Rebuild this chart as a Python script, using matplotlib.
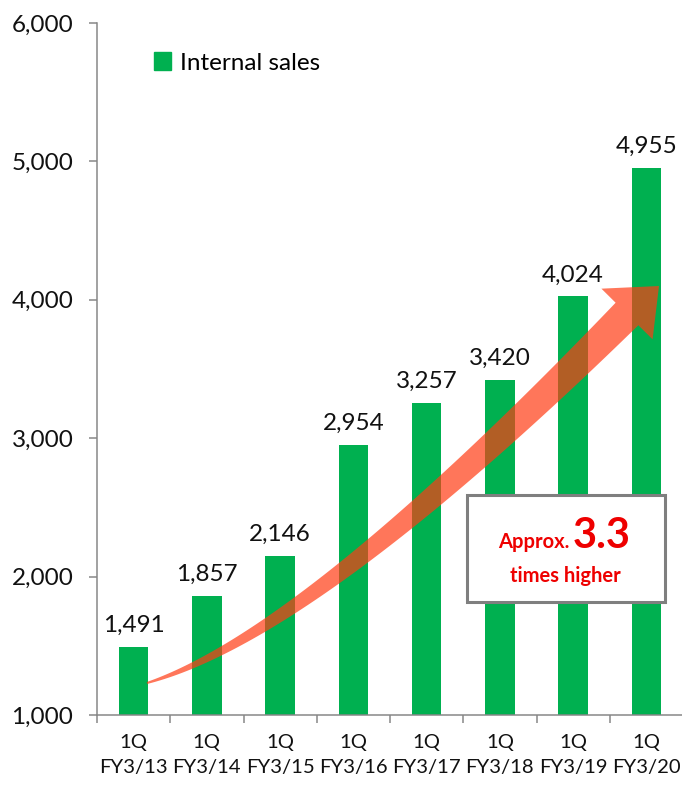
import numpy as np
import matplotlib
matplotlib.use('Agg')
import matplotlib.pyplot as plt
from matplotlib.patches import Polygon, Patch, Rectangle

# dane
kwartaly = ['1Q\nFY3/13', '1Q\nFY3/14', '1Q\nFY3/15', '1Q\nFY3/16',
            '1Q\nFY3/17', '1Q\nFY3/18', '1Q\nFY3/19', '1Q\nFY3/20']
sprzedaz = [1491, 1857, 2146, 2954, 3257, 3420, 4024, 4955]
yticks = [1000, 2000, 3000, 4000, 5000, 6000]

zielony = '#00B050'
czerwony = '#EE0000'
szary = '#878787'

plt.rcParams['font.family'] = ['Lato', 'DejaVu Sans']
fs = 17.5

fig = plt.figure(figsize=(6.82, 7.85), dpi=100)
ax = fig.add_axes([97 / 682, 1 - 715 / 785, 586 / 682, 692 / 785])

x = np.arange(len(sprzedaz))
ax.bar(x, sprzedaz, width=0.4, color=zielony, zorder=2)

for xi, v in zip(x, sprzedaz):
    ax.annotate(f'{v:,}', (xi, v), xytext=(0, 8), textcoords='offset points',
                ha='center', va='bottom', fontsize=fs, color='#111111')

ax.set_xlim(-0.5, len(sprzedaz) - 0.5)
ax.set_ylim(1000, 6000)
ax.set_yticks(yticks)
ax.set_yticklabels([f'{t:,}' for t in yticks], fontsize=fs, color='#111111')
ax.set_xticks(x)
ax.set_xticklabels(kwartaly, fontsize=14.6, color='#111111', linespacing=1.55)
ax.set_xticks(np.arange(len(sprzedaz) + 1) - 0.5, minor=True)
ax.tick_params(axis='x', which='major', length=0, pad=14)
ax.tick_params(axis='x', which='minor', length=6, width=1.1, color=szary)
ax.tick_params(axis='y', length=6, width=1.1, color=szary, pad=11)

for s in ['top', 'right']:
    ax.spines[s].set_visible(False)
for s in ['left', 'bottom']:
    ax.spines[s].set_color(szary)
    ax.spines[s].set_linewidth(1.1)

ax.legend(handles=[Patch(color=zielony, label='Internal sales')], loc='upper left',
          bbox_to_anchor=(0.06, 0.99), frameon=False, fontsize=fs,
          handlelength=0.7, handleheight=0.8, handletextpad=0.35)

# strzalka (krzywa Beziera w pikselach obrazu)
fig.canvas.draw()
H = 785
def px(p):
    return np.array([p[0], H - p[1]], dtype=float)

P0, P1, P2 = px((147, 683)), px((310, 634)), px((627, 314))
tip = px((659, 286))
t = np.linspace(0, 1, 80)[:, None]
c = (1 - t) ** 2 * P0 + 2 * (1 - t) * t * P1 + t ** 2 * P2
d = 2 * (1 - t) * (P1 - P0) + 2 * t * (P2 - P1)
d = d / np.linalg.norm(d, axis=1, keepdims=True)
n = np.column_stack([-d[:, 1], d[:, 0]])
w = (2 + 30 * t) / 2
lewa = c + n * w
prawa = c - n * w
nk = n[-1]
pts = np.vstack([lewa, [P2 + nk * 36], [tip], [P2 - nk * 36], prawa[::-1]])
fig.patches.append(Polygon(pts, closed=True, transform=None, facecolor='#FF3C14',
                           edgecolor='none', alpha=0.7, zorder=5))

# ramka z opisem
ax.add_patch(Rectangle((0.631, 0.163), 0.338, 0.155, transform=ax.transAxes,
                       facecolor='white', edgecolor='#7F7F7F', linewidth=2.2, zorder=6))
ax.text(0.806, 0.2413, 'Approx.', transform=ax.transAxes, ha='right', va='baseline',
        fontsize=14.5, fontweight='bold', color=czerwony, zorder=7)
ax.text(0.811, 0.2413, '3.3', transform=ax.transAxes, ha='left', va='baseline',
        fontsize=30, fontweight='bold', color=czerwony, zorder=7)
ax.text(0.799, 0.192, 'times higher', transform=ax.transAxes, ha='center', va='baseline',
        fontsize=14.5, fontweight='bold', color=czerwony, zorder=7)

fig.savefig('out.png', dpi=100)
